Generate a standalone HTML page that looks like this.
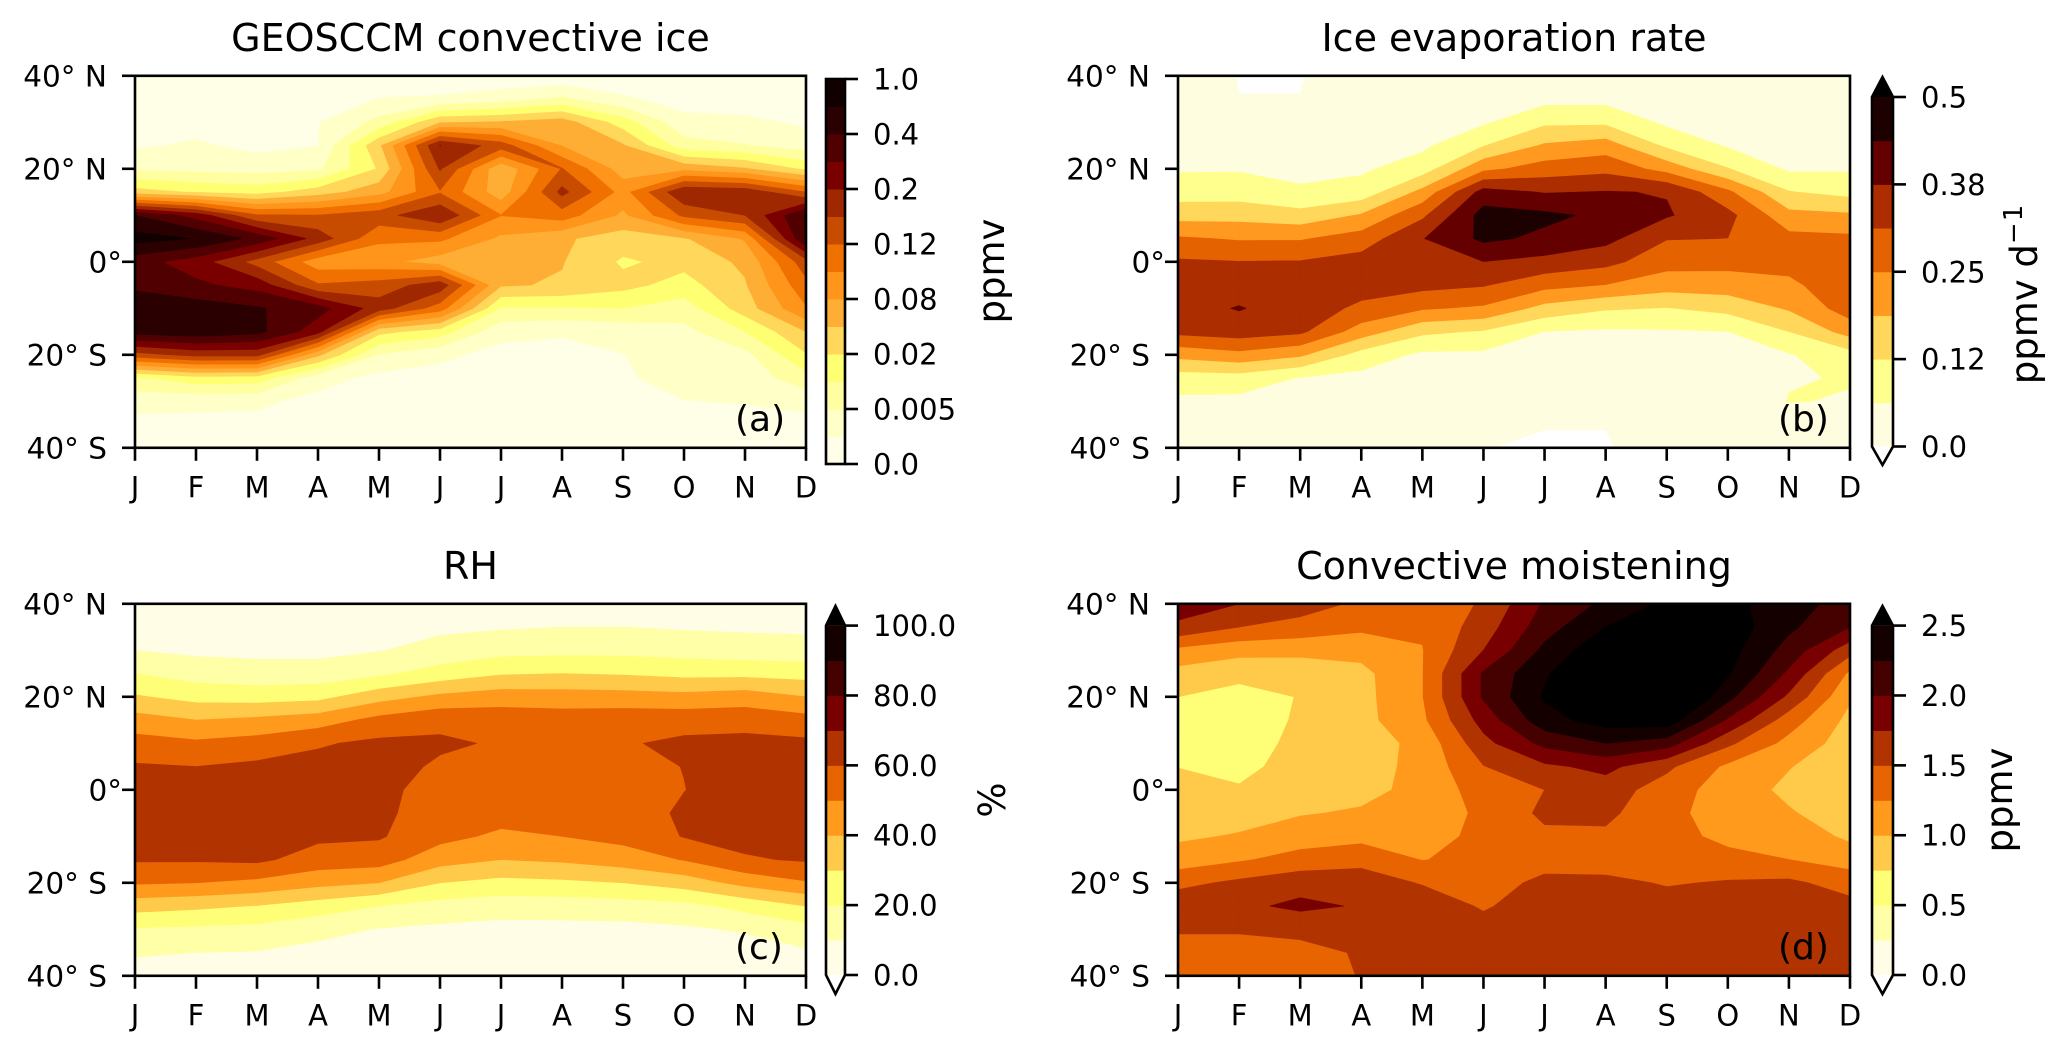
<!DOCTYPE html>
<html lang="en">
<head>
<meta charset="utf-8">
<title>Seasonal cycles of convective ice, evaporation, RH and moistening</title>
<style>
html,body{margin:0;padding:0;background:#fff;}
svg{display:block;}
text{font-family:"DejaVu Sans","Liberation Sans",sans-serif;fill:#000;}
</style>
</head>
<body>
<svg id="figure" xmlns="http://www.w3.org/2000/svg" width="2068" height="1056" viewBox="0 0 2068 1056">
  <rect x="0" y="0" width="2068" height="1056" fill="#ffffff"/>
  <g id="panel-a"></g>
  <g id="panel-b"></g>
  <g id="panel-c"></g>
  <g id="panel-d"></g>

  <text x="470.5" y="51" font-size="38" text-anchor="middle">GEOSCCM convective ice</text>
  <text x="1514" y="51" font-size="38" text-anchor="middle">Ice evaporation rate</text>
  <text x="470.5" y="579" font-size="38" text-anchor="middle">RH</text>
  <text x="1514" y="579" font-size="38" text-anchor="middle">Convective moistening</text>

  <text font-size="37" text-anchor="middle" transform="translate(1004,271) rotate(-90)">ppmv</text>
  <text font-size="37" text-anchor="middle" transform="translate(2037,294) rotate(-90)">ppmv d<tspan dy="-15" font-size="26" letter-spacing="1">−1</tspan></text>
  <text font-size="37" text-anchor="middle" transform="translate(1005,800) rotate(-90)">%</text>
  <text font-size="37" text-anchor="middle" transform="translate(2012,800) rotate(-90)">ppmv</text>

  <text x="735" y="431" font-size="36">(a)</text>
  <text x="1778" y="431" font-size="36">(b)</text>
  <text x="735" y="959" font-size="36">(c)</text>
  <text x="1778" y="959" font-size="36">(d)</text>
</svg>

<script>
/* ---------- shared axis data ---------- */
const monthLabels = ['J','F','M','A','M','J','J','A','S','O','N','D'];
const latitudes = [40,35,30,25,20,15,10,5,0,-5,-10,-15,-20,-25,-30,-35,-40];
const latTicks = [40,20,0,-20,-40];
const latTickLabels = ['40° N','20° N','0°','20° S','40° S'];

/* ---------- panel (a): convective ice, ppmv; one row per month, 40N to 40S ---------- */
const iceLevels = [0,0.002,0.005,0.01,0.02,0.05,0.08,0.1,0.12,0.15,0.2,0.3,0.4,0.6,1.0];
const iceTickValues = [0,0.005,0.02,0.08,0.12,0.2,0.4,1.0];
const iceTickLabels = ['0.0','0.005','0.02','0.08','0.12','0.2','0.4','1.0'];
const iceValues = [
 [.0004,.0008,.0012,.0017,.0044,.032,.4,.76,.34,.38,.52,.48,.138,.009,.00305,.0014,.0008],
 [.0002,.0006,.0012,.00245,.0041,.019,.26,.59,.25,.32,.5,.54,.165,.016,.00275,.0014,.0007],
 [.0002,.0004,.0008,.0014,.0038,.016,.123,.37,.138,.26,.42,.46,.165,.015,.0026,.0014,.0006],
 [.0002,.0008,.0019,.00196,.0044,.035,.121,.18,.088,.123,.34,.24,.056,.0032,.0014,.0008,.0004],
 [.0006,.00209,.0065,.044,.023,.068,.138,.104,.086,.132,.175,.029,.0047,.0014,.0008,.0004,.0002],
 [.001,.0023,.047,.202,.155,.118,.195,.104,.065,.18,.11,.015,.0026,.0013,.0008,.0004,.0002],
 [.0006,.0035,.053,.135,.056,.062,.1004,.074,.062,.053,.0095,.0029,.0014,.0008,.0006,.0004,.0002],
 [.0004,.006,.065,.0785,.1215,.165,.11,.0545,.0515,.047,.0095,.0023,.0014,.0008,.0006,.0004,.0002],
 [.0005,.00245,.015,.053,.065,.092,.074,.035,.0185,.029,.01,.0029,.00196,.0018,.0014,.0008,.0004],
 [.0004,.0012,.0029,.007,.071,.195,.126,.047,.029,.016,.0075,.0041,.0035,.0029,.00196,.001,.0004],
 [.0004,.001,.0026,.00525,.053,.185,.15,.082,.056,.047,.035,.01,.0041,.0032,.00215,.0012,.0006],
 [.0004,.001,.0017,.0035,.018,.12,.42,.41,.138,.114,.098,.05,.019,.008,.0029,.0014,.0006]
];

/* ---------- panel (b): ice evaporation rate, ppmv/day ---------- */
const evapLevels = [0,0.0625,0.125,0.1875,0.25,0.3125,0.375,0.4375,0.5];
const evapTickValues = [0,0.125,0.25,0.375,0.5];
const evapTickLabels = ['0.0','0.12','0.25','0.38','0.5'];
const evapValues = [
 [.02,.03,.038,.05,.056,.096,.1625,.2575,.32,.337,.35,.33,.206,.094,.05,.03,.02],
 [-.001,.0003,.04,.05,.057,.096,.164,.244,.314,.344,.379,.344,.231,.096,.047,.025,.012],
 [-.001,.0003,.03,.04,.05,.069,.147,.244,.316,.337,.344,.325,.197,.059,.037,.025,.012],
 [.012,.02,.03,.044,.053,.086,.193,.278,.337,.337,.3,.219,.1,.044,.03,.02,.012],
 [.012,.02,.03,.05,.094,.205,.3,.372,.35,.331,.256,.138,.05,.037,.025,.016,.01],
 [.006,.03,.054,.122,.234,.4,.4625,.45,.374,.317,.24,.119,.05,.034,.022,.012,.0002],
 [.012,.044,.1125,.195,.277,.371,.45,.425,.356,.269,.166,.062,.044,.03,.022,.0003,-.001],
 [.012,.044,.1125,.217,.294,.378,.425,.394,.331,.248,.131,.053,.04,.03,.022,.0003,-.001],
 [.02,.03,.05,.1125,.225,.372,.381,.315,.273,.215,.122,.056,.044,.03,.025,.0125,.006],
 [.02,.03,.044,.056,.128,.262,.331,.312,.269,.219,.144,.062,.044,.045,.03,.02,.006],
 [.02,.025,.037,.047,.053,.128,.206,.269,.275,.234,.194,.125,.058,.06,.064,.025,.006],
 [.02,.025,.037,.05,.056,.104,.196,.2625,.2875,.3,.281,.2125,.1,.0645,.06,.03,.012]
];

/* ---------- panel (c): relative humidity, % ---------- */
const rhLevels = [0,10,20,30,40,50,60,70,80,90,100];
const rhTickValues = [0,20,40,60,80,100];
const rhTickLabels = ['0.0','20.0','40.0','60.0','80.0','100.0'];
const rhValues = [
 [4,7,10,20,31,44,54,61,64,64,63,61,51,34,19,11,6],
 [3,6,8,15.5,26.6,40,51.7,60,63,64,63,61,50,32,18,10,6],
 [3,5,7.5,14,25.5,42,54,62,65,65,64,62,47.5,29.5,17,9.5,5],
 [3,5,7.5,14,27,45,59,63,65,65,62,55.5,43,25,13,7,4],
 [4,7,9.5,18,36,53,62,64,62,61.5,61,54.5,40,20,9.5,6,3],
 [5,8,13.6,24,42,57.5,61.5,58.5,57,56.5,53,44,30,16,8,4,2],
 [6,9,16.5,29,45,56,59,57,56,54,48,40,27,14,7,3,2],
 [6.5,10,17,30,44.5,55,57,57,56,54,50,41.5,28,14.5,7,3,2],
 [6.5,10,17,29,44,56,59,57,56,55,53,45,30,15.5,7,3,2],
 [6,9,16,27,43,56,62,60.2,59.8,61.5,60.5,50.5,34.5,17,8.5,4,2],
 [5.5,8.5,14.5,27,45,56,63,65,65,65,63,59,43,23,11,5,3],
 [5,8,14,26,40,53.5,62,65,65,65,63,61,49,30,16.5,8.5,4]
];

/* ---------- panel (d): convective moistening, ppmv ---------- */
const moistLevels = [0,0.25,0.5,0.75,1.0,1.25,1.5,1.75,2.0,2.25,2.5];
const moistTickValues = [0,0.5,1.0,1.5,2.0,2.5];
const moistTickLabels = ['0.0','0.5','1.0','1.5','2.0','2.5'];
const moistValues = [
 [1.87,1.7,1.185,.91,.75,.68,.68,.745,.82,.89,.96,1.11,1.43,1.67,1.53,1.38,1.3],
 [1.75,1.5,1.08,.82,.66,.58,.57,.66,.78,.9,1.02,1.22,1.55,1.7,1.53,1.38,1.28],
 [1.6,1.42,1.05,.88,.76,.79,.85,.88,.93,.98,1.13,1.34,1.66,1.8,1.58,1.4,1.3],
 [1.46,1.3,1.08,.93,.92,.92,.88,.9,.92,1.03,1.17,1.42,1.63,1.73,1.64,1.53,1.52],
 [1.38,1.28,1.24,1.24,1.24,1.2,1.07,1.07,1.08,1.1,1.14,1.24,1.48,1.66,1.7,1.65,1.6],
 [1.52,1.62,1.75,2.03,2.03,1.85,1.67,1.49,1.36,1.3,1.32,1.33,1.35,1.47,1.6,1.68,1.7],
 [2.03,2.14,2.31,2.46,2.53,2.4,2.07,1.7,1.5,1.55,1.45,1.37,1.58,1.64,1.68,1.7,1.7],
 [2.3,2.5,2.7,2.9,3,2.62,2.25,1.82,1.62,1.55,1.46,1.38,1.56,1.65,1.7,1.72,1.72],
 [2.55,2.7,2.9,3,2.95,2.65,2.12,1.55,1.38,1.34,1.36,1.38,1.48,1.6,1.68,1.72,1.72],
 [2.58,2.65,2.6,2.53,2.33,1.97,1.55,1.2,1.12,1.1,1.17,1.34,1.52,1.62,1.68,1.72,1.72],
 [2.35,2.3,2.15,1.95,1.7,1.37,1.17,1.01,.95,1.02,1.15,1.25,1.55,1.65,1.68,1.7,1.7],
 [2.15,2.0,1.6,1.2,1.03,.93,.88,.85,.85,.88,.95,1.14,1.39,1.58,1.62,1.65,1.65]
];

/* ---------- colour ramps, low to high ---------- */
const iceColors = ['#fffee6','#ffffc8','#ffffa2','#ffff72','#ffd75b','#ffae35','#ff951a','#f07000','#c84c00','#a02800','#7a0000','#500000','#2a0000','#100000'];
const evapColors = ['#fffde0','#ffff8e','#ffd75b','#ff991f','#e56200','#ab2d00','#640000','#1d0000'];
const tenColors = ['#fffde5','#ffffa8','#ffff77','#ffc94a','#ff9a1c','#e86400','#b03300','#780000','#450000','#150000'];

const SVG_NS = 'http://www.w3.org/2000/svg';

function make(parent, tag, attrs) {
  const el = document.createElementNS(SVG_NS, tag);
  for (const key in attrs) el.setAttribute(key, attrs[key]);
  parent.appendChild(el);
  return el;
}

/* position of a value on the (possibly non-uniform) level scale */
function levelIndex(v, levels) {
  const n = levels.length;
  if (v <= levels[0]) return (v - levels[0]) / (levels[1] - levels[0]);
  for (let i = 1; i < n; i++) {
    if (v <= levels[i]) return i - 1 + (v - levels[i - 1]) / (levels[i] - levels[i - 1]);
  }
  return n - 1 + (v - levels[n - 1]) / (levels[n - 1] - levels[n - 2]);
}

/* clip a polygon whose vertices carry a field t, interpolating along its edges */
function clipPoly(poly, limit, keepAbove) {
  const out = [];
  for (let i = 0; i < poly.length; i++) {
    const a = poly[i], b = poly[(i + 1) % poly.length];
    const aIn = keepAbove ? a.t >= limit : a.t <= limit;
    const bIn = keepAbove ? b.t >= limit : b.t <= limit;
    if (aIn) out.push(a);
    if (aIn !== bIn) {
      const f = (limit - a.t) / (b.t - a.t);
      out.push({ x: a.x + f * (b.x - a.x), y: a.y + f * (b.y - a.y), t: limit });
    }
  }
  return out;
}

function drawPanel(cfg) {
  const g = document.getElementById(cfg.id);
  const xScale = i => cfg.left + i * (cfg.right - cfg.left) / (monthLabels.length - 1);
  const yScale = lat => cfg.top + (40 - lat) / 80 * (cfg.bottom - cfg.top);
  const nBands = cfg.levels.length - 1;

  /* band path strings: index 0 = below lowest level, last = above highest level */
  const bandPaths = new Array(nBands + 2).fill('');
  const addCell = cell => {
    for (let k = -1; k <= nBands; k++) {
      let poly = cell;
      if (k >= 0) poly = clipPoly(poly, k, true);
      if (poly.length >= 3 && k < nBands) poly = clipPoly(poly, k + 1, false);
      if (poly.length >= 3) {
        bandPaths[k + 1] += 'M' + poly.map(p => p.x.toFixed(2) + ' ' + p.y.toFixed(2)).join('L') + 'Z';
      }
    }
  };
  for (let m = 0; m < monthLabels.length - 1; m++) {
    for (let j = 0; j < latitudes.length - 1; j++) {
      addCell([[m, j], [m + 1, j], [m + 1, j + 1], [m, j + 1]].map(c => ({
        x: xScale(c[0]),
        y: yScale(latitudes[c[1]]),
        t: levelIndex(cfg.values[c[0]][c[1]], cfg.levels)
      })));
    }
  }

  const clipId = cfg.id + '-clip';
  const defs = make(g, 'defs', {});
  const clip = make(defs, 'clipPath', { id: clipId });
  make(clip, 'rect', { x: cfg.left, y: cfg.top, width: cfg.right - cfg.left, height: cfg.bottom - cfg.top });

  const fillGroup = make(g, 'g', { 'clip-path': 'url(#' + clipId + ')' });
  
  
  const bandColors = ['#ffffff'].concat(cfg.colors, ['#000000']);
  bandPaths.forEach((d, idx) => {
    if (!d) return;
    const band = make(fillGroup, 'path', { d: d, fill: bandColors[idx], stroke: bandColors[idx], 'stroke-width': 0.7, 'stroke-linejoin': 'round' });
    
    
  });

  /* plot frame */
  const frame = make(g, 'rect', { x: cfg.left, y: cfg.top, width: cfg.right - cfg.left, height: cfg.bottom - cfg.top, fill: 'none', stroke: '#000', 'stroke-width': 2.6 });
  
  

  /* x axis */
  monthLabels.forEach((label, i) => {
    const tick = make(g, 'line', { x1: xScale(i), x2: xScale(i), y1: cfg.bottom, y2: cfg.bottom + 13, stroke: '#000', 'stroke-width': 2.6 });
    
    
    const txt = make(g, 'text', { x: xScale(i), y: cfg.bottom + 49.8, 'font-size': 29, 'text-anchor': 'middle' });
    txt.textContent = label;
    
    
  });

  /* y axis */
  latTicks.forEach((lat, i) => {
    const tick = make(g, 'line', { x1: cfg.left - 13, x2: cfg.left, y1: yScale(lat), y2: yScale(lat), stroke: '#000', 'stroke-width': 2.6 });
    
    
    const rightEdge = lat === 0 ? cfg.left - 13 : cfg.left - 28;
    const txt = make(g, 'text', { x: rightEdge, y: yScale(lat) + 10.5, 'font-size': 29.5, 'text-anchor': 'end' });
    txt.textContent = latTickLabels[i];
    
    
  });

  /* colour bar */
  const bar = make(g, 'g', {});
  
  
  const cb = cfg.bar;
  const barY = idx => cb.bottom - idx / nBands * (cb.bottom - cb.top);
  cfg.colors.forEach((color, k) => {
    const swatch = make(bar, 'rect', { x: cb.left, y: barY(k + 1), width: cb.right - cb.left, height: barY(k) - barY(k + 1) + 0.5, fill: color });
    
    
  });
  const mid = (cb.left + cb.right) / 2;
  if (cb.extend) {
    const over = make(bar, 'polygon', { points: cb.left + ',' + cb.top + ' ' + mid + ',' + cb.tipTop + ' ' + cb.right + ',' + cb.top, fill: '#000' });
    
    
    const under = make(bar, 'polygon', { points: cb.left + ',' + cb.bottom + ' ' + mid + ',' + cb.tipBottom + ' ' + cb.right + ',' + cb.bottom, fill: '#fff' });
    
    
    const outline = make(bar, 'path', {
      d: 'M' + cb.left + ' ' + cb.top + 'L' + mid + ' ' + cb.tipTop + 'L' + cb.right + ' ' + cb.top + 'L' + cb.right + ' ' + cb.bottom + 'L' + mid + ' ' + cb.tipBottom + 'L' + cb.left + ' ' + cb.bottom + 'Z',
      fill: 'none', stroke: '#000', 'stroke-width': 2.6
    });
    
    
  } else {
    const outline = make(bar, 'rect', { x: cb.left, y: cb.top, width: cb.right - cb.left, height: cb.bottom - cb.top, fill: 'none', stroke: '#000', 'stroke-width': 2.6 });
    
    
  }
  cfg.tickValues.forEach((value, i) => {
    const y = barY(levelIndex(value, cfg.levels));
    const tick = make(bar, 'line', { x1: cb.right, x2: cb.right + 13, y1: y, y2: y, stroke: '#000', 'stroke-width': 2.6 });
    
    
    const txt = make(bar, 'text', { x: cb.right + 28, y: y + 10.5, 'font-size': 29 });
    txt.textContent = cfg.tickLabels[i];
    
    
  });
}

drawPanel({ id: 'panel-a', left: 135, right: 806, top: 75.8, bottom: 447.8,
  values: iceValues, levels: iceLevels, colors: iceColors, tickValues: iceTickValues, tickLabels: iceTickLabels,
  bar: { left: 826, right: 845, top: 79, bottom: 464, extend: false } });
drawPanel({ id: 'panel-b', left: 1178, right: 1850, top: 75.8, bottom: 447.8,
  values: evapValues, levels: evapLevels, colors: evapColors, tickValues: evapTickValues, tickLabels: evapTickLabels,
  bar: { left: 1872, right: 1893, top: 97, bottom: 446.5, extend: true, tipTop: 77, tipBottom: 465 } });
drawPanel({ id: 'panel-c', left: 135, right: 806, top: 603.8, bottom: 975.8,
  values: rhValues, levels: rhLevels, colors: tenColors, tickValues: rhTickValues, tickLabels: rhTickLabels,
  bar: { left: 826, right: 845, top: 625.6, bottom: 975, extend: true, tipTop: 606, tipBottom: 994 } });
drawPanel({ id: 'panel-d', left: 1178, right: 1850, top: 603.8, bottom: 975.8,
  values: moistValues, levels: moistLevels, colors: tenColors, tickValues: moistTickValues, tickLabels: moistTickLabels,
  bar: { left: 1872, right: 1893, top: 625.6, bottom: 975, extend: true, tipTop: 606, tipBottom: 994 } });
</script>
</body>
</html>
